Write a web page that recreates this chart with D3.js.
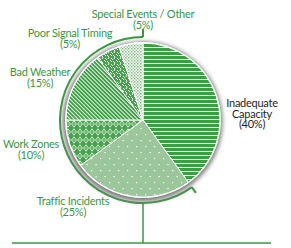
<!DOCTYPE html>
<html>
<head>
<meta charset="utf-8">
<script src="https://cdn.jsdelivr.net/npm/d3@7"></script>
<style>
  body { margin: 0; background: #fff; }
  text { font-family: Lato, 'Open Sans', sans-serif; font-size: 11px; letter-spacing: -0.25px; }
</style>
</head>
<body>
<div id="chart"></div>
<script>
(() => {
  // Data
  const categories = ['Inadequate Capacity', 'Traffic Incidents', 'Work Zones', 'Bad Weather', 'Poor Signal Timing', 'Special Events / Other']
  const values = [40, 25, 10, 15, 5, 5]
  const labelLines = [['Inadequate', 'Capacity', '(40%)'], ['Traffic Incidents', '(25%)'], ['Work Zones', '(10%)'], ['Bad Weather', '(15%)'], ['Poor Signal Timing', '(5%)'], ['Special Events / Other', '(5%)']]

  // Layout
  const width = 291
  const height = 248
  const cx = 143
  const cy = 120
  const radius = 77
  const ringRadius = 83
  const green = '#379a3f'
  const patternIds = ['stripes', 'dots', 'diamonds', 'diag', 'scribble', 'checker']
  // label anchor positions (centre of first line)
  const labelPos = [[252, 107], [73, 205], [31, 148], [40, 76], [70, 37], [143, 18]]
  const labelColor = ['#1e1e1e', green, green, green, green, green]

  const svg = d3.select('#chart')
    .append('svg')
    .attr('width', width)
    .attr('height', height)

  const defs = svg.append('defs')

  // Shadow blur
  defs.append('filter')
    .attr('id', 'blur')
    .attr('x', '-20%').attr('y', '-20%').attr('width', '140%').attr('height', '140%')
    .append('feGaussianBlur')
    .attr('stdDeviation', 2)

  // Patterns
  const pat = (id, w, h) => defs.append('pattern')
    .attr('id', id)
    .attr('patternUnits', 'userSpaceOnUse')
    .attr('width', w)
    .attr('height', h)

  // horizontal stripes
  let p = pat('stripes', 4, 4)
  p.append('rect').attr('width', 4).attr('height', 4).attr('fill', '#39a041')
  p.append('rect').attr('y', 3).attr('width', 4).attr('height', 1).attr('fill', '#fff')

  // light green with white dots
  p = pat('dots', 9, 12)
  p.append('rect').attr('width', 9).attr('height', 12).attr('fill', '#9cc79a')
  p.append('rect').attr('x', 2).attr('y', 2).attr('width', 1.2).attr('height', 1.2).attr('fill', '#fff')
  p.append('rect').attr('x', 6.5).attr('y', 8).attr('width', 1.2).attr('height', 1.2).attr('fill', '#fff')

  // diamonds
  p = pat('diamonds', 6, 8)
  p.append('rect').attr('width', 6).attr('height', 8).attr('fill', '#45a34c')
  p.append('path').attr('d', 'M3,0.8 L5.4,4 L3,7.2 L0.6,4 Z').attr('fill', 'none').attr('stroke', '#fff').attr('stroke-width', 0.8)
  p.append('rect').attr('x', 2.5).attr('y', 3.5).attr('width', 1).attr('height', 1).attr('fill', '#fff')

  // diagonal stripes
  p = pat('diag', 2.8, 2.8).attr('patternTransform', 'rotate(45)')
  p.append('rect').attr('width', 2.8).attr('height', 2.8).attr('fill', '#3c9f44')
  p.append('rect').attr('width', 2.8).attr('height', 0.9).attr('fill', '#fff')

  // scribble
  p = pat('scribble', 6, 6)
  p.append('rect').attr('width', 6).attr('height', 6).attr('fill', '#45a34c')
  p.append('path').attr('d', 'M0,1 L2,3 L1,5 M3,0 L5,2 M4,4 L6,6').attr('stroke', '#fff').attr('stroke-width', 0.9).attr('fill', 'none')

  // checker dots
  p = pat('checker', 3, 3)
  p.append('rect').attr('width', 3).attr('height', 3).attr('fill', '#fff')
  p.append('rect').attr('x', 0).attr('y', 0).attr('width', 1.5).attr('height', 1.5).attr('fill', '#7fbf80')
  p.append('rect').attr('x', 1.5).attr('y', 1.5).attr('width', 1.5).attr('height', 1.5).attr('fill', '#a8d3a6')

  const g = svg.append('g')
    .attr('transform', `translate(${cx}, ${cy})`)

  // Outer green ring arc (covers all but the first slice)
  const pie = d3.pie().sort(null).value(d => d)
  const arcs = pie(values)
  const ringStart = arcs[0].endAngle
  const ringEnd = Math.PI * 2

  g.append('path')
    .attr('d', d3.arc().innerRadius(ringRadius).outerRadius(ringRadius).startAngle(ringStart).endAngle(ringEnd)())
    .attr('fill', 'none')
    .attr('stroke', green)
    .attr('stroke-width', 2)

  // Ring ticks
  const tick = (a, r0, r1) => g.append('line')
    .attr('x1', r0 * Math.sin(a)).attr('y1', -r0 * Math.cos(a))
    .attr('x2', r1 * Math.sin(a)).attr('y2', -r1 * Math.cos(a))
    .attr('stroke', green)
    .attr('stroke-width', 2)
  tick(ringEnd, ringRadius, ringRadius + 8)
  tick(ringStart, ringRadius, ringRadius + 7)

  // Stem and base line
  svg.append('line')
    .attr('x1', cx).attr('x2', cx)
    .attr('y1', cy + ringRadius).attr('y2', 243)
    .attr('stroke', green)
    .attr('stroke-width', 1.5)
  svg.append('line')
    .attr('x1', 12).attr('x2', 271)
    .attr('y1', 243).attr('y2', 243)
    .attr('stroke', green)
    .attr('stroke-width', 1.5)

  // Shadow
  g.append('circle')
    .attr('cx', -0.5)
    .attr('cy', 1.5)
    .attr('r', radius + 3)
    .attr('fill', '#7d7d7d')
    .attr('filter', 'url(#blur)')

  g.append('circle')
    .attr('r', radius + 1)
    .attr('fill', '#fff')

  // Slices
  const arc = d3.arc().innerRadius(0).outerRadius(radius)
  g.selectAll('path.slice')
    .data(arcs)
    .join('path')
    .attr('class', 'slice')
    .attr('d', arc)
    .attr('fill', (d, i) => `url(#${patternIds[i]})`)
    .attr('stroke', '#fff')
    .attr('stroke-width', 1)

  // Labels
  svg.selectAll('text.label')
    .data(categories)
    .join('text')
    .attr('class', 'label')
    .attr('text-anchor', 'middle')
    .attr('fill', (d, i) => labelColor[i])
    .each(function (d, i) {
      d3.select(this).selectAll('tspan')
        .data(labelLines[i])
        .join('tspan')
        .attr('x', labelPos[i][0])
        .attr('y', (t, j) => labelPos[i][1] + j * 10.7)
        .text(t => t)
    })
})()
</script>
</body>
</html>
